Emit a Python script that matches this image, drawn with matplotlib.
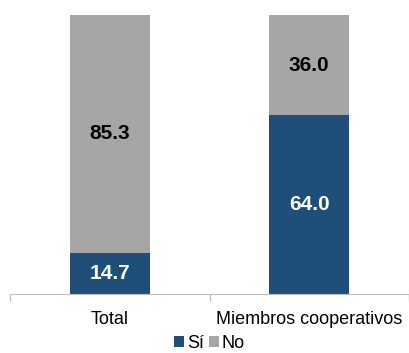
import matplotlib
matplotlib.use("Agg")
from matplotlib import pyplot as plt
import numpy as np

plt.rcParams['font.family'] = ['Liberation Sans', 'DejaVu Sans']

categorias = ['Total', 'Miembros cooperativos']
si = [14.7, 64.0]
no = [85.3, 36.0]

azul = '#1F4E79'
gris = '#A6A6A6'

fig = plt.figure(figsize=(4.09, 3.53), dpi=100)
ax = fig.add_axes([10 / 409, (353 - 294) / 353, 399 / 409, 279 / 353])

x = np.arange(len(categorias))
ax.bar(x, si, width=0.4, color=azul, label='Sí')
ax.bar(x, no, width=0.4, bottom=si, color=gris, label='No')

# etiquetas de valor dentro de cada segmento
for i in range(len(x)):
    ax.text(x[i], si[i] / 2, f'{si[i]:.1f}', ha='center', va='center',
            color='white', fontsize=15, fontweight='bold')
    ax.text(x[i], si[i] + no[i] / 2, f'{no[i]:.1f}', ha='center', va='center',
            color='black', fontsize=15, fontweight='bold')

ax.set_xlim(-0.5, 1.5)
ax.set_ylim(0, 100)
ax.set_yticks([])
ax.set_xticks([-0.5, 0.5, 1.5])
ax.set_xticklabels([])
ax.set_xticks(x, minor=True)
ax.set_xticklabels(categorias, minor=True, fontsize=13)
ax.tick_params(axis='x', which='major', length=5, color='#BFBFBF', width=1)
ax.tick_params(axis='x', which='minor', length=0, pad=12)
for s in ['top', 'right', 'left']:
    ax.spines[s].set_visible(False)
ax.spines['bottom'].set_color('#BFBFBF')

ax.legend(loc='upper center', bbox_to_anchor=(0.5, -0.12), ncol=2, frameon=False,
          fontsize=13, handlelength=0.55, handleheight=0.55, handletextpad=0.15,
          columnspacing=0.3, borderaxespad=0)

fig.savefig('out.png', dpi=100)
